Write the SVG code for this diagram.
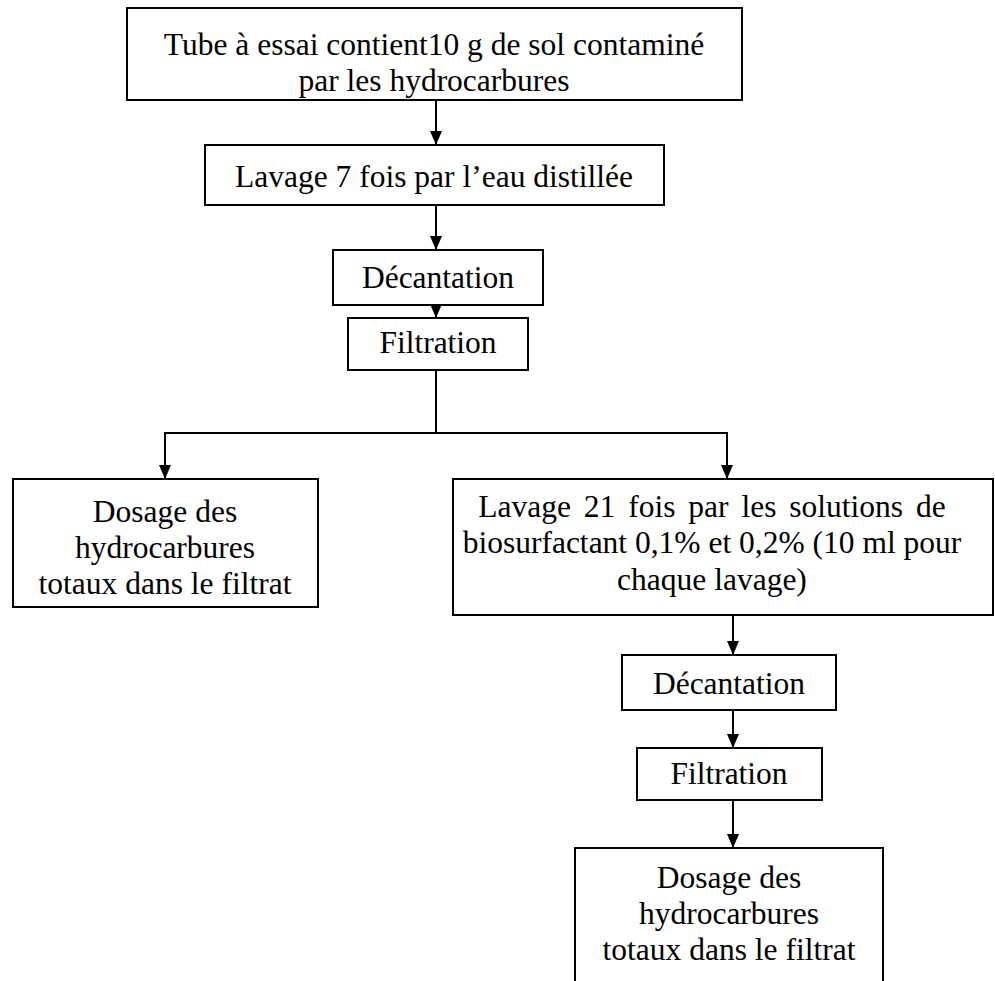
<svg xmlns="http://www.w3.org/2000/svg" width="995" height="981" viewBox="0 0 995 981">
<style>
.box{fill:#fff;stroke:#000;stroke-width:2}
.t{font-family:"Liberation Serif","Times New Roman",serif;font-size:31.5px;fill:#000;text-anchor:middle}
.c{stroke:#000;stroke-width:2;fill:none}
</style>
<defs>
<marker id="a" markerWidth="14" markerHeight="12" refX="14" refY="6" orient="auto" markerUnits="userSpaceOnUse" viewBox="0 0 14 12">
<path d="M0,0 L14,6 L0,12 Z" fill="#000"/>
</marker>
</defs>
<rect width="995" height="981" fill="#fff"/>
<g id="connectors">
<line class="c" x1="436" y1="100" x2="436" y2="145" marker-end="url(#a)"/>
<line class="c" x1="436" y1="205" x2="436" y2="250" marker-end="url(#a)"/>
<line class="c" x1="436" y1="305" x2="436" y2="318" marker-end="url(#a)"/>
<polyline class="c" points="436,370 436,433"/>
<polyline class="c" points="436,433 165,433 165,479" marker-end="url(#a)"/>
<polyline class="c" points="436,433 727,433 727,479" marker-end="url(#a)"/>
<line class="c" x1="733" y1="615" x2="733" y2="655" marker-end="url(#a)"/>
<line class="c" x1="733" y1="710" x2="733" y2="748" marker-end="url(#a)"/>
<line class="c" x1="733" y1="800" x2="733" y2="848" marker-end="url(#a)"/>
</g>
<g id="n1"><rect class="box" x="127" y="8" width="615" height="92"/>
<text class="t" x="434" y="55">Tube à essai contient10 g de sol contaminé</text>
<text class="t" x="434" y="91">par les hydrocarbures</text></g>
<g id="n2"><rect class="box" x="205" y="145" width="459" height="60"/>
<text class="t" x="434" y="187">Lavage 7 fois par l’eau distillée</text></g>
<g id="n3"><rect class="box" x="333" y="250" width="210" height="55"/>
<text class="t" x="438" y="288">Décantation</text></g>
<g id="n4"><rect class="box" x="348" y="318" width="180" height="52"/>
<text class="t" x="438" y="353">Filtration</text></g>
<g id="n5"><rect class="box" x="13" y="479" width="305" height="128"/>
<text class="t" x="165" y="522">Dosage des</text>
<text class="t" x="165" y="558">hydrocarbures</text>
<text class="t" x="165" y="594">totaux dans le filtrat</text></g>
<g id="n6"><rect class="box" x="453" y="479" width="540" height="136"/>
<text class="t" x="712" y="517" word-spacing="5">Lavage 21 fois par les solutions de</text>
<text class="t" x="712" y="553">biosurfactant 0,1% et 0,2% (10 ml pour</text>
<text class="t" x="712" y="590">chaque lavage)</text></g>
<g id="n7"><rect class="box" x="622" y="655" width="214" height="55"/>
<text class="t" x="729" y="694">Décantation</text></g>
<g id="n8"><rect class="box" x="637" y="748" width="185" height="52"/>
<text class="t" x="729" y="784">Filtration</text></g>
<g id="n9"><rect class="box" x="575" y="848" width="308" height="140"/>
<text class="t" x="729" y="888">Dosage des</text>
<text class="t" x="729" y="924">hydrocarbures</text>
<text class="t" x="729" y="960">totaux dans le filtrat</text></g>
</svg>
